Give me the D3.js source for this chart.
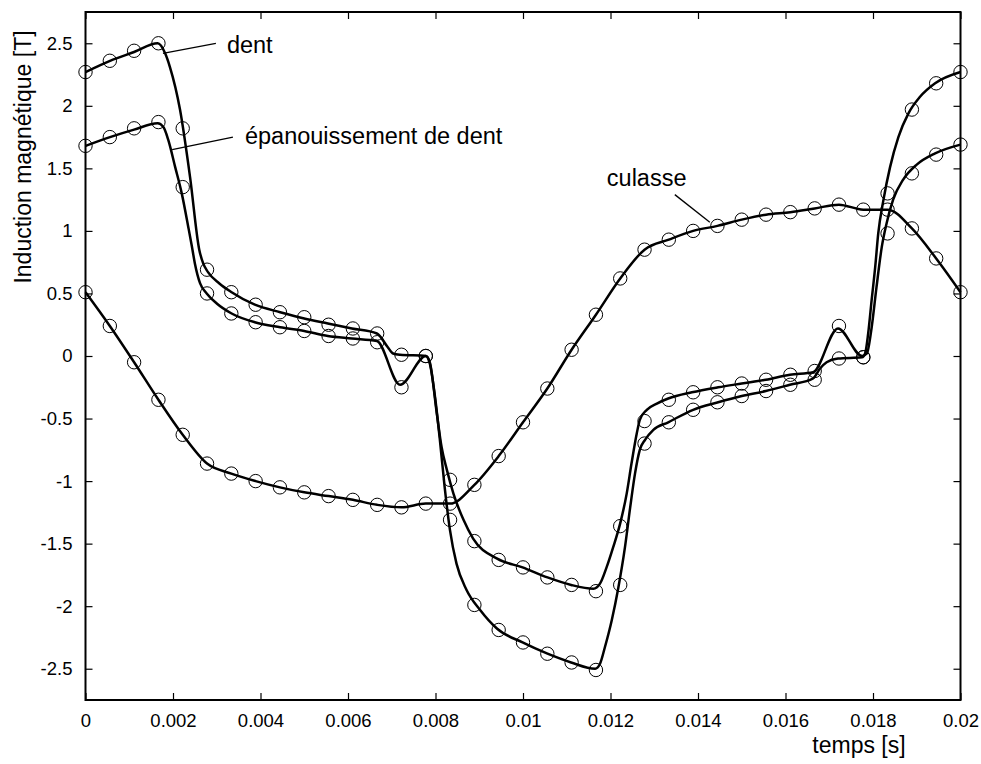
<!DOCTYPE html>
<html>
<head>
<meta charset="utf-8">
<script src="https://cdn.jsdelivr.net/npm/d3@7"></script>
<style>
    body { margin: 0; background: #fff; }
    svg { display: block; font-family: "Liberation Sans", Arial, sans-serif; }
</style>
</head>
<body>
<div id="chart"></div>
<script>
const width = 981;
const height = 764;
const margin = { top: 12, right: 20.5, bottom: 64, left: 85.5 };

// sample instants of the markers (one period, 36 steps)
const circleTimes = [0, 0.000556, 0.001111, 0.001667, 0.002222, 0.002778, 0.003333, 0.003889, 0.004444,
    0.005, 0.005556, 0.006111, 0.006667, 0.007222, 0.007778, 0.008333, 0.008889, 0.009444, 0.01,
    0.010556, 0.011111, 0.011667, 0.012222, 0.012778, 0.013333, 0.013889, 0.014444, 0.015, 0.015556,
    0.016111, 0.016667, 0.017222, 0.017778, 0.018333, 0.018889, 0.019444, 0.02];

const dentCircles = [2.27, 2.36, 2.44, 2.50, 1.82, 0.69, 0.51, 0.41, 0.35, 0.31, 0.25, 0.22, 0.18, 0.01, 0.0,
    -1.31, -1.99, -2.19, -2.29, -2.38, -2.45, -2.51, -1.83, -0.70, -0.53, -0.43, -0.37, -0.32, -0.28, -0.23,
    -0.19, -0.02, -0.01, 1.30, 1.97, 2.18, 2.27];
const epanCircles = [1.68, 1.75, 1.82, 1.87, 1.35, 0.50, 0.34, 0.27, 0.23, 0.20, 0.16, 0.14, 0.11, -0.25, 0.0,
    -0.99, -1.48, -1.63, -1.69, -1.77, -1.83, -1.88, -1.36, -0.52, -0.35, -0.29, -0.25, -0.22, -0.19, -0.15,
    -0.12, 0.24, -0.01, 0.98, 1.46, 1.61, 1.69];
const culasseCircles = [0.51, 0.24, -0.05, -0.35, -0.63, -0.86, -0.94, -1.0, -1.05, -1.09, -1.12, -1.15, -1.19,
    -1.21, -1.18, -1.18, -1.03, -0.80, -0.53, -0.26, 0.05, 0.33, 0.62, 0.85, 0.93, 1.0, 1.04, 1.09, 1.13, 1.15,
    1.18, 1.21, 1.17, 1.17, 1.02, 0.78, 0.51];

// computed curves [t, B]
const dentLine = [[0, 2.27], [0.00056, 2.36], [0.00111, 2.43], [0.00165, 2.50], [0.00182, 2.42], [0.00193, 2.31],
    [0.00216, 1.97], [0.00239, 1.43], [0.0026, 0.85], [0.00269, 0.74], [0.0028, 0.67], [0.00306, 0.58],
    [0.00334, 0.51], [0.00387, 0.41], [0.00445, 0.35], [0.005, 0.30], [0.00554, 0.26], [0.00609, 0.22],
    [0.00666, 0.18], [0.00691, 0.07], [0.00703, 0.02], [0.00719, 0.01], [0.00778, 0.0], [0.00787, -0.06],
    [0.00799, -0.33], [0.0081, -0.67], [0.00821, -1.05], [0.00833, -1.39], [0.00848, -1.66], [0.00871, -1.87],
    [0.00902, -2.03], [0.00941, -2.18], [0.00999, -2.29], [0.01056, -2.38], [0.0111, -2.45], [0.01165, -2.50],
    [0.01176, -2.46], [0.01187, -2.33], [0.01203, -2.11], [0.01218, -1.85], [0.01233, -1.53], [0.01245, -1.21],
    [0.01256, -0.94], [0.01267, -0.75], [0.01279, -0.67], [0.01298, -0.59], [0.01332, -0.53], [0.01389, -0.43],
    [0.01446, -0.37], [0.015, -0.32], [0.01555, -0.28], [0.0161, -0.23], [0.01663, -0.18], [0.01679, -0.10],
    [0.01694, -0.05], [0.0172, -0.02], [0.01775, -0.01], [0.01782, 0.02], [0.01789, 0.18], [0.01797, 0.45],
    [0.01805, 0.71], [0.01812, 0.98], [0.01824, 1.25], [0.01839, 1.51], [0.01858, 1.75], [0.01881, 1.94],
    [0.01907, 2.07], [0.01942, 2.18], [0.02, 2.27]];
const epanLine = [[0, 1.68], [0.00056, 1.75], [0.00111, 1.81], [0.00165, 1.86], [0.00178, 1.83], [0.00189, 1.73],
    [0.00205, 1.51], [0.0022, 1.30], [0.00235, 1.03], [0.00243, 0.88], [0.0025, 0.74], [0.00262, 0.58],
    [0.00277, 0.50], [0.003, 0.42], [0.00334, 0.34], [0.00387, 0.27], [0.00445, 0.23], [0.005, 0.20],
    [0.00554, 0.16], [0.00609, 0.14], [0.00666, 0.12], [0.00719, -0.23], [0.00778, 0.0], [0.00787, -0.05],
    [0.00803, -0.46], [0.00814, -0.73], [0.00826, -0.91], [0.00841, -1.10], [0.00864, -1.31], [0.00886, -1.46],
    [0.00941, -1.62], [0.00999, -1.69], [0.01056, -1.77], [0.0111, -1.83], [0.01161, -1.86], [0.01176, -1.82],
    [0.01191, -1.69], [0.01206, -1.53], [0.01222, -1.34], [0.01237, -1.10], [0.01248, -0.86], [0.0126, -0.62],
    [0.01267, -0.51], [0.01283, -0.43], [0.01306, -0.38], [0.01332, -0.34], [0.01386, -0.29], [0.01446, -0.25],
    [0.015, -0.22], [0.01555, -0.19], [0.0161, -0.15], [0.01663, -0.13], [0.0172, 0.22], [0.01775, 0.0],
    [0.01786, 0.02], [0.01797, 0.23], [0.01808, 0.55], [0.0182, 0.87], [0.01831, 1.06], [0.01846, 1.25],
    [0.01869, 1.41], [0.019, 1.53], [0.01942, 1.62], [0.02, 1.69]];

const xTicks = [0, 0.002, 0.004, 0.006, 0.008, 0.01, 0.012, 0.014, 0.016, 0.018, 0.02];
const yTicks = [-2.5, -2, -1.5, -1, -0.5, 0, 0.5, 1, 1.5, 2, 2.5];

// label, arrow start (on curve) and arrow end, in data units
const notes = [
    { label: "dent", from: [0.00177, 2.42], to: [0.00298, 2.50], dx: 11, dy: 10 },
    { label: "épanouissement de dent", from: [0.00198, 1.65], to: [0.00337, 1.75], dx: 12, dy: 7 },
    { label: "culasse", from: [0.01427, 1.07], to: [0.01347, 1.29], dx: -68, dy: -9 },
];

const x = d3.scaleLinear().domain([0, 0.02]).range([margin.left, width - margin.right]);
const y = d3.scaleLinear().domain([-2.75, 2.75]).range([height - margin.bottom, margin.top]);

const fmt = (v) => String(+v.toFixed(4));

const svg = d3.select("#chart").append("svg").attr("width", width).attr("height", height);

// ticks inside on all sides
svg.append("g")
    .attr("transform", `translate(0,${y.range()[0]})`)
    .call(d3.axisBottom(x).tickValues(xTicks).tickSize(-7).tickPadding(14).tickFormat(fmt))
    .call((g) => g.select(".domain").remove());
svg.append("g")
    .attr("transform", `translate(0,${y.range()[1]})`)
    .call(d3.axisTop(x).tickValues(xTicks).tickSize(-7).tickFormat(""))
    .call((g) => g.select(".domain").remove());
svg.append("g")
    .attr("transform", `translate(${x.range()[0]},0)`)
    .call(d3.axisLeft(y).tickValues(yTicks).tickSize(-7).tickPadding(13).tickFormat(fmt))
    .call((g) => g.select(".domain").remove());
svg.append("g")
    .attr("transform", `translate(${x.range()[1]},0)`)
    .call(d3.axisRight(y).tickValues(yTicks).tickSize(-7).tickFormat(""))
    .call((g) => g.select(".domain").remove());

svg.selectAll(".tick line").attr("stroke", "#000").attr("stroke-width", 1.2);
svg.selectAll(".tick text").attr("font-size", 18.5).attr("fill", "#000").style("font-family", "inherit");

svg.append("rect")
    .attr("x", x.range()[0])
    .attr("y", y.range()[1])
    .attr("width", x.range()[1] - x.range()[0])
    .attr("height", y.range()[0] - y.range()[1])
    .attr("fill", "none")
    .attr("stroke", "#000")
    .attr("stroke-width", 2);

const line = d3.line()
    .x((d) => x(d[0]))
    .y((d) => y(d[1]))
    .curve(d3.curveMonotoneX);

const culasseLine = circleTimes.map((t, i) => [t, culasseCircles[i]]);

svg.selectAll(".curve")
    .data([dentLine, epanLine, culasseLine])
    .join("path")
    .attr("class", "curve")
    .attr("d", line)
    .attr("fill", "none")
    .attr("stroke", "#000")
    .attr("stroke-width", 2.5)
    .attr("stroke-linejoin", "round");

[dentCircles, epanCircles, culasseCircles].forEach((vals) => {
    svg.append("g")
        .selectAll("circle")
        .data(vals)
        .join("circle")
        .attr("cx", (d, i) => x(circleTimes[i]))
        .attr("cy", (d) => y(d))
        .attr("r", 6.7)
        .attr("fill", "none")
        .attr("stroke", "#000")
        .attr("stroke-width", 1);
});

notes.forEach((n) => {
    svg.append("line")
        .attr("x1", x(n.from[0]))
        .attr("y1", y(n.from[1]))
        .attr("x2", x(n.to[0]))
        .attr("y2", y(n.to[1]))
        .attr("stroke", "#000")
        .attr("stroke-width", 1.3);
    svg.append("text")
        .attr("x", x(n.to[0]) + n.dx)
        .attr("y", y(n.to[1]) + n.dy)
        .attr("font-size", 23.5)
        .text(n.label);
});

svg.append("text")
    .attr("x", 859)
    .attr("y", 753)
    .attr("text-anchor", "middle")
    .attr("font-size", 23)
    .text("temps [s]");

svg.append("text")
    .attr("transform", "translate(31,157) rotate(-90)")
    .attr("text-anchor", "middle")
    .attr("font-size", 23)
    .text("Induction magnétique [T]");
</script>
</body>
</html>
